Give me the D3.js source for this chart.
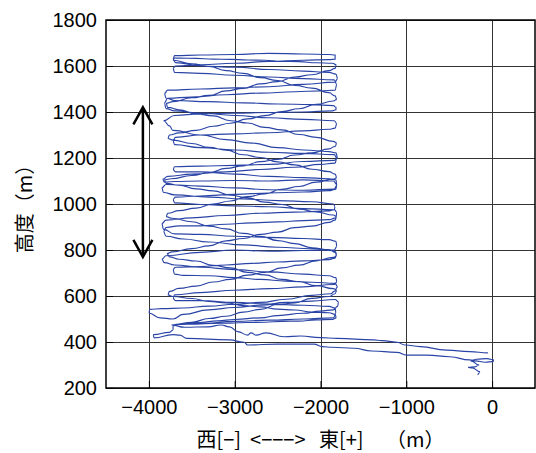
<!DOCTYPE html>
<html>
<head>
<meta charset="utf-8">
<script src="https://cdn.jsdelivr.net/npm/d3@7"></script>
<style>
  body { margin: 0; background: #fff; }
  .tick text { font-family: "Liberation Sans", Arial, sans-serif; font-size: 20px; fill: #000; }
  .title { font-family: "Noto Sans CJK JP", sans-serif; font-size: 20px; fill: #000; white-space: pre; }
</style>
</head>
<body>
<div id="chart"></div>
<script>
// axis ticks
const xTicks = [-4000, -3000, -2000, -1000, 0];
const yTicks = [200, 400, 600, 800, 1000, 1200, 1400, 1600, 1800];

// flight track [east-west (m), altitude (m)]
const startLoop = [[-170,258],[-140,270],[-230,287],[-280,290],[-200,292],[-150,300],[-250,318],
  [-180,325],[-60,328],[20,322],[10,315],[-80,312],[-200,318],[-260,322]];

const outboundLeg = [[-493,336],[-763,343],[-994,343],[-1110,355],[-1400,361],[-1613,373],[-1863,377],
  [-1980,380],[-2078,391],[-2500,391],[-2850,387],[-2890,399],[-3061,409],[-3563,416],[-3641,430],
  [-3720,432],[-3940,418],[-3950,432],[-3760,442],[-3717,452]];

const climbLegs = [
  [-3720,470],[-3650,478],[-3400,485],[-3200,492],[-3000,498],[-2700,505],[-2500,515],[-2200,525],[-2000,535],[-1850,540],[-1800,555],
  [-1790,575],[-1830,585],
  [-2100,578],[-2400,572],[-2700,560],[-3000,550],[-3300,540],[-3600,520],[-3720,500],[-3870,505],[-4000,525],[-3990,542],
  [-3850,545],[-3600,548],[-3300,556],[-3000,564],[-2700,572],[-2400,586],[-2100,603],[-1880,610],[-1840,620],
  [-1800,640],[-1830,655],
  [-2100,660],[-2400,665],[-2700,672],[-3000,680],[-3300,688],[-3600,690],[-3700,695],
  [-3720,715],[-3690,725],
  [-3400,728],[-3100,735],[-2800,742],[-2500,748],[-2200,753],[-1900,758],[-1830,765],
  [-1810,785],[-1840,797],
  [-2100,805],[-2500,812],[-2900,822],[-3300,835],[-3600,848],[-3800,860],[-3830,880],
  [-3800,898],[-3650,905],
  [-3400,905],[-3100,912],[-2800,918],[-2500,922],[-2200,928],[-1900,932],[-1820,940],
  [-1810,965],[-1840,975],
  [-2200,980],[-2600,988],[-3000,992],[-3400,998],[-3700,1005],
  [-3720,1020],[-3690,1030],
  [-3400,1035],[-3000,1042],[-2600,1048],[-2200,1052],[-1900,1058],[-1820,1065],
  [-1810,1085],[-1850,1100],
  [-2200,1105],[-2600,1100],[-3000,1102],[-3400,1100],[-3700,1098],[-3820,1095],
  [-3840,1108],[-3780,1120],
  [-3500,1130],[-3100,1140],[-2700,1150],[-2300,1160],[-2000,1172],[-1830,1178],
  [-1810,1200],[-1840,1215],
  [-2200,1220],[-2600,1225],[-3000,1235],[-3400,1245],[-3700,1258],
  [-3720,1275],[-3690,1290],
  [-3400,1300],[-3000,1305],[-2600,1310],[-2200,1318],[-1900,1325],[-1830,1330],
  [-1810,1350],[-1840,1362],
  [-2200,1368],[-2600,1375],[-3000,1385],[-3400,1395],[-3700,1405],[-3800,1415],
  [-3820,1440],[-3780,1460],
  [-3500,1465],[-3100,1475],[-2700,1482],[-2300,1488],[-2000,1492],[-1830,1495],
  [-1810,1520],[-1840,1540],
  [-2200,1545],[-2600,1552],[-3000,1560],[-3400,1568],[-3700,1572],
  [-3720,1590],[-3690,1600],
  [-3400,1605],[-3000,1612],[-2600,1620],[-2200,1625],[-1900,1628],[-1830,1630],
  [-1830,1648],[-1900,1650],
  [-2200,1652],[-2600,1655],[-3000,1650],[-3400,1648],[-3700,1645],
  [-3720,1630],[-3690,1615]
];

const descentLegs = [
  [-3400,1600],[-3000,1595],[-2600,1585],[-2200,1578],[-1900,1572],[-1820,1565],
  [-1800,1545],[-1830,1530],
  [-2200,1520],[-2600,1510],[-3000,1505],[-3400,1500],[-3780,1495],[-3820,1480],
  [-3800,1460],[-3700,1450],
  [-3300,1445],[-2900,1440],[-2500,1435],[-2100,1432],[-1850,1428],[-1820,1420],
  [-1820,1410],[-1860,1405],
  [-2200,1400],[-2600,1398],[-3000,1395],[-3400,1392],[-3700,1385],[-3830,1362],
  [-3760,1340],[-3720,1320],
  [-3400,1300],[-3100,1280],[-2800,1265],[-2500,1245],[-2200,1235],[-1900,1228],[-1820,1222],
  [-1800,1200],[-1840,1190],
  [-2200,1185],[-2600,1172],[-3000,1168],[-3400,1165],[-3700,1162],
  [-3720,1150],[-3690,1140],
  [-3400,1140],[-3000,1130],[-2600,1120],[-2200,1115],[-1900,1110],[-1820,1105],
  [-1810,1080],[-1840,1065],
  [-2200,1060],[-2600,1062],[-3000,1070],[-3400,1078],[-3800,1085],[-3850,1070],
  [-3830,1050],[-3700,1040],
  [-3300,1030],[-2900,1022],[-2500,1015],[-2100,1010],[-1850,1000],[-1830,990],
  [-1840,975],[-1900,970],
  [-2300,965],[-2700,960],[-3100,950],[-3500,940],[-3800,930],[-3850,915],
  [-3830,890],[-3700,870],
  [-3400,868],[-3000,860],[-2600,855],[-2200,850],[-1900,845],[-1820,838],
  [-1810,815],[-1840,800],
  [-2200,798],[-2600,795],[-3000,800],[-3400,790],[-3800,775],[-3850,760],
  [-3820,745],[-3700,735],
  [-3400,725],[-3000,715],[-2600,705],[-2200,695],[-1900,688],[-1820,680],
  [-1810,660],[-1840,650],
  [-2200,640],[-2600,632],[-3000,625],[-3400,615],[-3700,605],
  [-3720,590],[-3690,580],
  [-3400,580],[-3000,572],[-2600,565],[-2200,560],[-1900,555],[-1830,548],
  [-1820,525],[-1850,505],
  [-2200,500],[-2600,495],[-3000,490],[-3400,480],[-3700,476]
];

// slanted legs that cross the others
const secondClimb = [
  [-3500,486],[-3300,502],[-3100,512],[-2900,530],[-2700,542],[-2500,563],[-2300,570],[-2100,590],[-1900,598],[-1830,610],
  [-1810,625],[-1850,632],
  [-2050,645],[-2250,662],[-2450,672],[-2650,692],[-2850,703],[-3050,722],[-3250,733],[-3450,752],[-3650,760],[-3760,770],
  [-3790,785],[-3730,792],
  [-3500,806],[-3300,818],[-3100,840],[-2900,850],[-2700,868],[-2500,878],[-2300,897],[-2100,904],[-1900,920],[-1830,930],
  [-1812,945],[-1850,952],
  [-2050,966],[-2250,978],[-2450,998],[-2650,1008],[-2850,1027],[-3050,1038],[-3250,1057],[-3450,1066],[-3650,1082],[-3800,1090],
  [-3820,1105],[-3740,1110],
  [-3500,1124],[-3300,1136],[-3100,1155],[-2900,1166],[-2700,1184],[-2500,1194],[-2300,1213],[-2100,1222],[-1900,1240],[-1830,1250],
  [-1810,1265],[-1850,1272],
  [-2050,1290],[-2250,1302],[-2450,1322],[-2650,1333],[-2850,1352],[-3050,1362],[-3250,1383],[-3450,1392],[-3650,1410],[-3780,1420],
  [-3800,1438],[-3720,1445],
  [-3500,1462],[-3300,1472],[-3100,1492],[-2900,1503],[-2700,1522],[-2500,1532],[-2300,1552],[-2100,1562],[-1900,1580],[-1830,1590],
  [-1815,1605],[-1860,1612],
  [-2050,1614],[-2250,1619],[-2450,1620],[-2650,1625],[-2850,1626],[-3050,1629],[-3250,1630],[-3450,1633],[-3650,1634],[-3700,1635],
  [-3720,1625]
];

const secondDescent = [
  [-3500,1610],[-3300,1598],[-3100,1580],[-2900,1568],[-2700,1549],[-2500,1537],[-2300,1516],[-2100,1504],[-1900,1484],[-1830,1470],
  [-1810,1455],[-1850,1448],
  [-2050,1433],[-2250,1414],[-2450,1402],[-2650,1384],[-2850,1370],[-3050,1351],[-3250,1338],[-3450,1320],[-3650,1309],[-3760,1300],
  [-3780,1285],[-3720,1278],
  [-3500,1263],[-3300,1246],[-3100,1234],[-2900,1214],[-2700,1202],[-2500,1183],[-2300,1170],[-2100,1151],[-1900,1141],[-1830,1130],
  [-1810,1115],[-1850,1108],
  [-2050,1095],[-2250,1076],[-2450,1064],[-2650,1044],[-2850,1032],[-3050,1013],[-3250,1000],[-3450,982],[-3650,971],[-3780,960],
  [-3800,945],[-3730,938],
  [-3500,923],[-3300,904],[-3100,892],[-2900,872],[-2700,860],[-2500,841],[-2300,828],[-2100,810],[-1900,801],[-1830,790],
  [-1810,775],[-1850,768],
  [-2050,753],[-2250,734],[-2450,722],[-2650,702],[-2850,691],[-3050,672],[-3250,661],[-3450,643],[-3650,633],[-3760,620],
  [-3780,605],[-3720,598],
  [-3500,589],[-3300,576],[-3100,570],[-2900,558],[-2700,553],[-2500,543],[-2300,539],[-2100,530],[-1900,527],[-1830,520],
  [-1815,505],[-1860,498],
  [-2050,496],[-2250,491],[-2450,490],[-2650,486],[-2850,485],[-3050,482],[-3250,481],[-3450,478],[-3650,477]
];

const returnLeg = [[-3737,474],[-3583,464],[-3312,466],[-3158,474],[-3061,466],[-2964,445],[-2848,430],
  [-2810,440],[-2752,430],[-2636,440],[-2424,423],[-2231,426],[-1999,419],[-1805,416],[-1381,409],
  [-1284,406],[-1110,399],[-1014,387],[-840,380],[-531,365],[-261,358],[-49,353]];

// double arrow marking the layer
const arrowX = -4070;
const arrowTop = 1420;
const arrowBottom = 770;

const track = [].concat(startLoop, outboundLeg, climbLegs, descentLegs, secondClimb, secondDescent, returnLeg);

const width = 536;
const height = 453;

var svg = d3
  .select("#chart")
  .append("svg")
  .attr("width", width)
  .attr("height", height);

var x = d3.scaleLinear().domain([-4500, 500]).range([106, 535]);
var y = d3.scaleLinear().domain([200, 1800]).range([388, 20]);

// grid
const grid = svg.append("g").attr("stroke", "#333").attr("stroke-width", 1);
grid.selectAll(".gx")
  .data(xTicks)
  .join("line")
  .attr("x1", (d) => Math.round(x(d)) + 0.5)
  .attr("x2", (d) => Math.round(x(d)) + 0.5)
  .attr("y1", y(1800))
  .attr("y2", y(200));
grid.selectAll(".gy")
  .data(yTicks)
  .join("line")
  .attr("y1", (d) => Math.round(y(d)) + 0.5)
  .attr("y2", (d) => Math.round(y(d)) + 0.5)
  .attr("x1", x(-4500))
  .attr("x2", x(500));

// flight track: flat runs joined by short climbs
var line = d3.line()
  .x((d) => x(d[0]))
  .y((d) => y(d[1]))
  .curve(d3.curveBumpX);
svg.append("path")
  .datum(track)
  .attr("d", line)
  .attr("fill", "none")
  .attr("stroke", "#2a44a6")
  .attr("stroke-width", 1.15);

// arrow
const ax = x(arrowX);
const at = y(arrowTop);
const ab = y(arrowBottom);
const arrow = svg.append("g")
  .attr("fill", "none")
  .attr("stroke", "#000")
  .attr("stroke-width", 2.5);
arrow.append("line").attr("x1", ax).attr("x2", ax).attr("y1", at + 1).attr("y2", ab - 1);
arrow.append("path").attr("d", `M${ax - 9.5},${at + 17}L${ax},${at}L${ax + 9.5},${at + 17}`);
arrow.append("path").attr("d", `M${ax - 9.5},${ab - 17}L${ax},${ab}L${ax + 9.5},${ab - 17}`);

// axes
svg.append("g")
  .attr("transform", `translate(0,${y(200)})`)
  .call(d3.axisBottom(x).tickValues(xTicks).tickFormat(d3.format("d")).tickSize(-7).tickPadding(12))
  .call((g) => g.select(".domain").remove())
  .call((g) => g.selectAll(".tick line").attr("stroke", "#000"));

svg.append("g")
  .attr("transform", `translate(${x(-4500)},0)`)
  .call(d3.axisLeft(y).tickValues(yTicks).tickFormat(d3.format("d")).tickSize(-7).tickPadding(9))
  .call((g) => g.select(".domain").remove())
  .call((g) => g.selectAll(".tick line").attr("stroke", "#000"));

// frame
svg.append("rect")
  .attr("x", x(-4500))
  .attr("y", y(1800))
  .attr("width", x(500) - x(-4500))
  .attr("height", y(200) - y(1800))
  .attr("fill", "none")
  .attr("stroke", "#000")
  .attr("stroke-width", 1.5);

// titles
svg.append("text")
  .attr("class", "title")
  .attr("x", (x(-4500) + x(500)) / 2)
  .attr("y", 447)
  .attr("text-anchor", "middle")
  .text("西[−]  <−−−>   東[+]     （m）");

svg.append("text")
  .attr("class", "title")
  .attr("transform", `translate(32,${(y(200) + y(1800)) / 2}) rotate(-90)`)
  .attr("text-anchor", "middle")
  .text("高度（m）");
</script>
</body>
</html>
